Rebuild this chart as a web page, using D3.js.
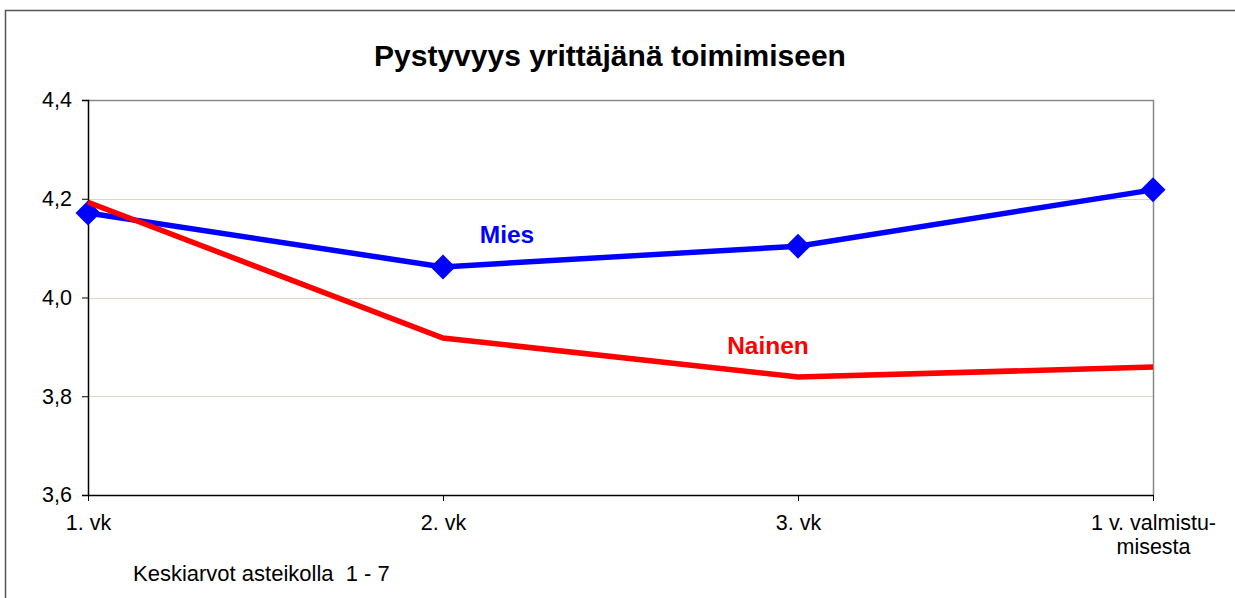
<!DOCTYPE html>
<html>
<head>
<meta charset="utf-8">
<script src="https://cdn.jsdelivr.net/npm/d3@7"></script>
<style>
  body { margin: 0; background: #fff; }
  svg { display: block; font-family: "Liberation Sans", Arial, sans-serif; }
</style>
</head>
<body>
<div id="chart"></div>
<script>
const WIDTH = 1235;
const HEIGHT = 598;

const categories = ["1. vk", "2. vk", "3. vk", "1 v. valmistu-\nmisesta"];
const miesValues = [4.171, 4.062, 4.104, 4.218];
const nainenValues = [4.193, 3.918, 3.839, 3.859];
const yTicks = [3.6, 3.8, 4.0, 4.2, 4.4];

const margin = { top: 100, right: 82, bottom: 103, left: 88 };
const plotW = WIDTH - margin.left - margin.right;
const plotH = HEIGHT - margin.top - margin.bottom;
const FONT = "Liberation Sans, Arial, sans-serif";

const svg = d3.select("#chart")
  .append("svg")
  .attr("width", WIDTH)
  .attr("height", HEIGHT);

// outer chart frame
svg.append("path")
  .attr("d", `M5.5,${HEIGHT} V10.5 H${WIDTH}`)
  .attr("fill", "none")
  .attr("stroke", "#555")
  .attr("stroke-width", 1.5);

svg.append("text")
  .attr("x", 610)
  .attr("y", 66)
  .attr("text-anchor", "middle")
  .attr("font-size", 30)
  .attr("font-weight", "bold")
  .text("Pystyvyys yrittäjänä toimimiseen");

const g = svg.append("g").attr("transform", `translate(${margin.left},${margin.top})`);

const x = d3.scalePoint().domain(categories).range([0, plotW]);
const y = d3.scaleLinear().domain([3.6, 4.4]).range([plotH, 0]);

// gridlines
g.selectAll("line.grid")
  .data(yTicks.filter(t => t > 3.6 && t < 4.4))
  .join("line")
  .attr("class", "grid")
  .attr("x1", 0).attr("x2", plotW)
  .attr("y1", d => Math.round(y(d)) + 0.5)
  .attr("y2", d => Math.round(y(d)) + 0.5)
  .attr("stroke", "#dcd8c0")
  .attr("stroke-width", 1);

// plot border top/right
g.append("path")
  .attr("d", `M0,0.5 H${plotW + 0.5} V${plotH}`)
  .attr("fill", "none")
  .attr("stroke", "#888")
  .attr("stroke-width", 1.5);

// y axis
const yAxis = g.append("g")
  .call(d3.axisLeft(y).tickValues(yTicks).tickSize(6).tickPadding(10)
    .tickFormat(d => d3.format(".1f")(d).replace(".", ",")));
yAxis.select(".domain").attr("stroke", "#000").attr("stroke-width", 1.5);
yAxis.selectAll(".tick line").attr("stroke", "#000");
yAxis.selectAll("text").attr("font-size", 21.5).attr("fill", "#000")
  .attr("font-family", FONT);

// x axis
const xAxis = g.append("g")
  .attr("transform", `translate(0,${plotH})`)
  .call(d3.axisBottom(x).tickSize(6).tickSizeOuter(0).tickFormat(""));
xAxis.select(".domain").attr("stroke", "#000").attr("stroke-width", 1.5);
xAxis.selectAll(".tick line").attr("stroke", "#000");

xAxis.selectAll(".tick").append("text")
  .attr("fill", "#000")
  .attr("font-size", 21.5)
  .attr("text-anchor", "middle")
  .attr("font-family", FONT)
  .selectAll("tspan")
  .data(d => d.split("\n"))
  .join("tspan")
  .attr("x", 0)
  .attr("y", (d, i) => 35 + i * 24)
  .text(d => d);

const line = d3.line()
  .x((d, i) => x(categories[i]))
  .y(d => y(d));

// Mies series
g.append("path")
  .datum(miesValues)
  .attr("d", line)
  .attr("fill", "none")
  .attr("stroke", "#0000ff")
  .attr("stroke-width", 5.5);

g.selectAll("path.marker")
  .data(miesValues)
  .join("path")
  .attr("class", "marker")
  .attr("transform", (d, i) => `translate(${x(categories[i])},${y(d)})`)
  .attr("d", "M0,-12.5 L12.5,0 L0,12.5 L-12.5,0 Z")
  .attr("fill", "#0000ff");

// Nainen series
g.append("path")
  .datum(nainenValues)
  .attr("d", line)
  .attr("fill", "none")
  .attr("stroke", "#ff0000")
  .attr("stroke-width", 5.5);

g.append("text")
  .attr("x", x(categories[1]) + 64)
  .attr("y", 143)
  .attr("text-anchor", "middle")
  .attr("font-size", 24.5)
  .attr("font-weight", "bold")
  .attr("fill", "#0000ff")
  .text("Mies");

g.append("text")
  .attr("x", x(categories[2]) - 30)
  .attr("y", 254)
  .attr("text-anchor", "middle")
  .attr("font-size", 24.5)
  .attr("font-weight", "bold")
  .attr("fill", "#ff0000")
  .text("Nainen");

svg.append("text")
  .attr("x", 133)
  .attr("y", 581)
  .attr("font-size", 22)
  .attr("fill", "#000")
  .attr("xml:space", "preserve")
  .text("Keskiarvot asteikolla  1 - 7");
</script>
</body>
</html>
